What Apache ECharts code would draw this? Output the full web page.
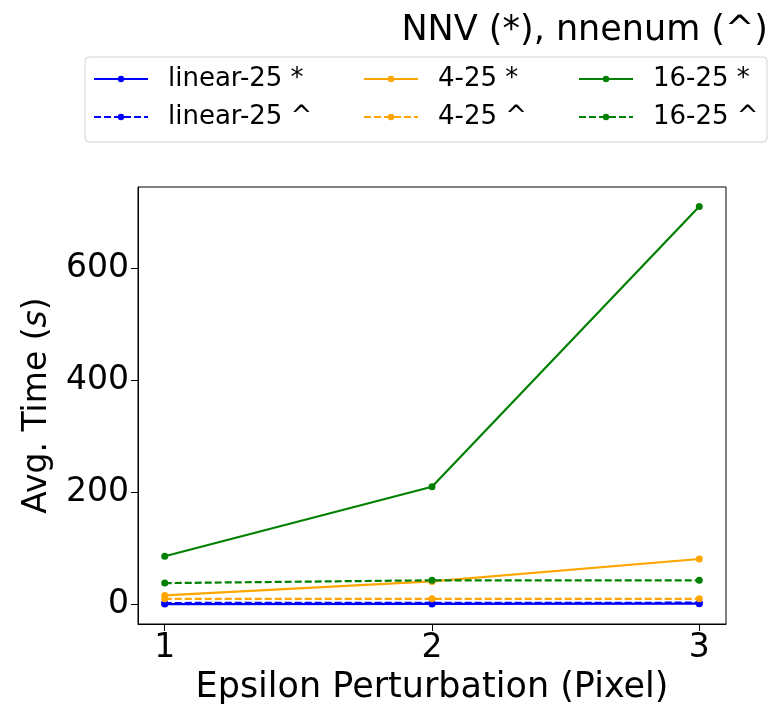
<!DOCTYPE html>
<html><head><meta charset="utf-8">
<script src="https://cdn.jsdelivr.net/npm/echarts@6/dist/echarts.min.js"></script>
<style>html,body{margin:0;padding:0;background:#fff}#c{width:782px;height:704px}</style>
</head><body><div id="c"></div>
<script>
var epsilons = [1, 2, 3];
var xTicks = [1, 2, 3];
var yTicks = [0, 200, 400, 600];
var linear25Nnv = [0.5, 0.8, 1.2];
var linear25Nnenum = [2.5, 2.8, 3.0];
var m425Nnv = [16, 41, 81];
var m425Nnenum = [10, 10, 10];
var m1625Nnv = [86, 210, 710];
var m1625Nnenum = [38, 43, 43];

var FONT = 'DejaVu Sans';
function pts(v){ return epsilons.map(function(x,i){ return [x, v[i]]; }); }
function mk(name, data, color, dashed){
  return {
    name: name, type: 'line', data: pts(data),
    symbol: 'circle', symbolSize: 7,
    itemStyle: {color: color},
    lineStyle: {color: color, width: 2.2, type: dashed ? [7,3] : 'solid'},
    emphasis: {disabled: true}, animation: false
  };
}
var series = [
  mk('linear-25 *', linear25Nnv, '#0000ff', false),
  mk('linear-25 ^', linear25Nnenum, '#0000ff', true),
  mk('4-25 *', m425Nnv, '#ffa500', false),
  mk('4-25 ^', m425Nnenum, '#ffa500', true),
  mk('16-25 *', m1625Nnv, '#008000', false),
  mk('16-25 ^', m1625Nnenum, '#008000', true)
];
function leg(names, left){
  return {
    orient: 'vertical', left: left, top: 66, itemGap: 12, padding: 0,
    itemWidth: 54, itemHeight: 8,
    data: names, selectedMode: false,
    textStyle: {fontFamily: FONT, fontSize: 26, lineHeight: 26, color: '#000', padding: [0,0,0,15]}
  };
}
var chart = echarts.init(document.getElementById('c'), null, {renderer: 'canvas'});
chart.setOption({
  backgroundColor: '#fff',
  animation: false,
  title: {
    text: 'NNV (*), nnenum (^)', right: 14, top: 13, padding: 0,
    textStyle: {fontFamily: FONT, fontSize: 35, fontWeight: 'normal', color: '#000'}
  },
  legend: [
    leg(['linear-25 *', 'linear-25 ^'], 93),
    leg(['4-25 *', '4-25 ^'], 363),
    leg(['16-25 *', '16-25 ^'], 578)
  ],
  graphic: [{
    type: 'rect', shape: {x: 85, y: 57, width: 682, height: 85, r: 4},
    style: {fill: 'none', stroke: '#d0d0d0', lineWidth: 1}, silent: true, z: 0
  }],
  grid: {left: 138, right: 56, top: 187, bottom: 80, show: true, borderColor: '#000', borderWidth: 1,
         outerBoundsMode: 'none', containLabel: false},
  xAxis: {
    type: 'value', min: 0.9, max: 3.1,
    name: 'Epsilon Perturbation (Pixel)', nameLocation: 'middle', nameGap: 46,
    nameTextStyle: {fontFamily: FONT, fontSize: 35, color: '#000'},
    axisLine: {show: true, onZero: false, lineStyle: {color: '#000'}},
    axisTick: {show: true, length: 7, lineStyle: {color: '#000'}, customValues: xTicks},
    axisLabel: {fontFamily: FONT, fontSize: 33, color: '#000', margin: 8, customValues: xTicks},
    splitLine: {show: false}
  },
  yAxis: {
    type: 'value', min: -35, max: 745,
    name: '{n|Avg. Time (}{i|s}{n|)}', nameLocation: 'middle', nameGap: 84,
    nameTextStyle: {rich: {
      n: {fontFamily: FONT, fontSize: 33, color: '#000'},
      i: {fontFamily: FONT, fontSize: 33, color: '#000', fontStyle: 'italic'}
    }},
    axisLine: {show: true, onZero: false, lineStyle: {color: '#000'}},
    axisTick: {show: true, length: 7, lineStyle: {color: '#000'}, customValues: yTicks},
    axisLabel: {fontFamily: FONT, fontSize: 33, color: '#000', margin: 9, customValues: yTicks},
    splitLine: {show: false}
  },
  series: series
});
</script></body></html>
